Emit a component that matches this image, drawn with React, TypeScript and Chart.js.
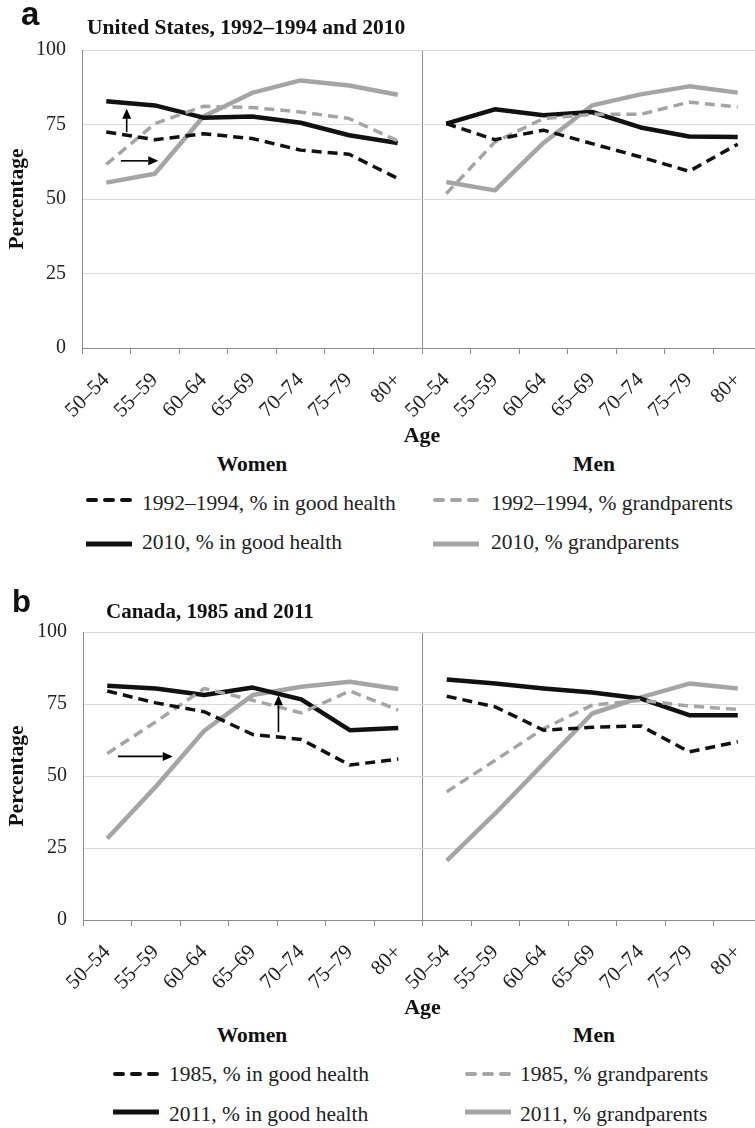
import React, { useEffect, useRef } from 'react';
import { Chart, registerables } from 'chart.js';

Chart.register(...registerables);

// ---------- data ----------
const ageGroups = ['50–54', '55–59', '60–64', '65–69', '70–74', '75–79', '80+'];
const yTickValues = [0, 25, 50, 75, 100];

// United States (women, men)
const usWomenHealth1992 = [72.5, 69.9, 71.9, 70.3, 66.4, 65.0, 56.9];
const usMenHealth1992 = [75.3, 69.9, 73.1, 68.6, 64.1, 59.3, 68.4];
const usWomenGrand1992 = [61.6, 75.3, 81.1, 80.7, 79.2, 77.0, 69.5];
const usMenGrand1992 = [51.8, 69.1, 77.0, 78.4, 78.4, 82.5, 80.9];
const usWomenHealth2010 = [82.8, 81.4, 77.3, 77.7, 75.6, 71.4, 68.8];
const usMenHealth2010 = [75.3, 80.1, 78.1, 79.2, 74.0, 71.0, 70.8];
const usWomenGrand2010 = [55.5, 58.5, 77.7, 85.6, 89.8, 88.1, 85.0];
const usMenGrand2010 = [55.7, 52.9, 68.8, 81.4, 85.1, 87.8, 85.7];

// Canada (women, men)
const caWomenHealth1985 = [79.5, 75.4, 72.3, 64.4, 62.7, 53.8, 55.9];
const caMenHealth1985 = [77.7, 74.0, 65.9, 66.9, 67.4, 58.4, 61.9];
const caWomenGrand1985 = [57.8, 68.8, 80.4, 76.3, 71.9, 79.5, 72.9];
const caMenGrand1985 = [44.5, 55.5, 66.5, 74.6, 76.3, 74.3, 73.1];
const caWomenHealth2011 = [81.3, 80.4, 78.1, 80.7, 76.6, 65.9, 66.7];
const caMenHealth2011 = [83.5, 82.1, 80.4, 79.0, 76.9, 71.1, 71.1];
const caWomenGrand2011 = [28.3, 46.3, 65.7, 78.1, 81.0, 82.7, 80.2];
const caMenGrand2011 = [20.6, 37.0, 54.4, 71.7, 77.3, 82.1, 80.4];

// annotation arrows: [fromCategoryIndex, fromValue, toCategoryIndex, toValue]
const usArrows = [
  [0.42, 72.5, 0.42, 80.3],
  [0.3, 62.8, 1.07, 62.8],
];
const caArrows = [
  [0.22, 56.8, 1.35, 56.8],
  [3.53, 65.3, 3.53, 78.0],
];

const usLegend = ['1992–1994, % in good health', '1992–1994, % grandparents', '2010, % in good health', '2010, % grandparents'];
const caLegend = ['1985, % in good health', '1985, % grandparents', '2011, % in good health', '2011, % grandparents'];

// ---------- styles ----------
const BLACK = '#111111';
const GRAY = '#a5a5a5';
const AXIS = '#8c8c8c';
const GRID = '#dadada';
const SERIF = '"Liberation Serif", "Times New Roman", serif';
const SANS = '"Liberation Sans", Arial, sans-serif';

const arrowPlugin = {
  id: 'arrows',
  afterDatasetsDraw(chart: any, _args: any, opts: any) {
    const list = (opts && opts.list) || [];
    const xs = chart.scales.x;
    const ys = chart.scales.y;
    const ctx = chart.ctx;
    ctx.save();
    ctx.strokeStyle = '#000';
    ctx.fillStyle = '#000';
    ctx.lineWidth = 1.6;
    list.forEach((a: number[]) => {
      const x1 = xs.getPixelForValue(a[0]);
      const y1 = ys.getPixelForValue(a[1]);
      const x2 = xs.getPixelForValue(a[2]);
      const y2 = ys.getPixelForValue(a[3]);
      const ang = Math.atan2(y2 - y1, x2 - x1);
      const hl = 10;
      const hw = 4.5;
      const bx = x2 - hl * Math.cos(ang);
      const by = y2 - hl * Math.sin(ang);
      ctx.beginPath();
      ctx.moveTo(x1, y1);
      ctx.lineTo(bx, by);
      ctx.stroke();
      ctx.beginPath();
      ctx.moveTo(x2, y2);
      ctx.lineTo(bx + hw * Math.sin(ang), by - hw * Math.cos(ang));
      ctx.lineTo(bx - hw * Math.sin(ang), by + hw * Math.cos(ang));
      ctx.closePath();
      ctx.fill();
    });
    ctx.restore();
  },
};

function series(label: string, women: number[], men: number[], color: string, dashed: boolean, width: number) {
  return {
    label,
    data: [...women, ...men],
    borderColor: color,
    borderWidth: width,
    borderDash: dashed ? [10, 6] : [],
    borderCapStyle: 'butt',
    borderJoinStyle: 'round',
    pointRadius: 0,
    pointHoverRadius: 0,
    tension: 0,
    fill: false,
    segment: {
      borderColor: (c: any) => (c.p0DataIndex === ageGroups.length - 1 ? 'rgba(0,0,0,0)' : undefined),
    },
  };
}

type PanelProps = {
  top: number;
  height: number;
  padTop: number;
  axisWidth: number;
  datasets: any[];
  arrows: number[][];
};

function PanelChart({ top, height, padTop, axisWidth, datasets, arrows }: PanelProps) {
  const ref = useRef<HTMLCanvasElement | null>(null);
  useEffect(() => {
    if (!ref.current) return;
    const labels = [...ageGroups, ...ageGroups];
    const chart = new Chart(ref.current, {
      type: 'line',
      data: { labels, datasets },
      plugins: [arrowPlugin],
      options: {
        responsive: false,
        animation: false,
        events: [],
        layout: { padding: { top: padTop, left: 0, right: 0, bottom: 0 } },
        plugins: {
          legend: { display: false },
          tooltip: { enabled: false },
          arrows: { list: arrows },
        } as any,
        scales: {
          x: {
            type: 'category',
            offset: true,
            grid: {
              offset: true,
              drawOnChartArea: true,
              color: (c: any) => (c.index === ageGroups.length ? AXIS : 'rgba(0,0,0,0)'),
              tickColor: AXIS,
              tickLength: 6,
              lineWidth: 1,
            },
            border: { color: AXIS, width: 1 },
            ticks: {
              minRotation: 45,
              maxRotation: 45,
              autoSkip: false,
              padding: 14,
              color: '#222',
              font: { family: SERIF, size: 21 },
            },
            title: {
              display: true,
              text: 'Age',
              color: '#111',
              padding: 0,
              font: { family: SERIF, size: 22, weight: 'bold' },
            },
            afterFit: (s: any) => {
              s.height = 102;
              s.paddingLeft = 0;
              s.paddingRight = 0;
            },
          },
          y: {
            min: 0,
            max: 100,
            afterBuildTicks: (s: any) => {
              s.ticks = yTickValues.map((v) => ({ value: v }));
            },
            grid: { color: GRID, drawTicks: false, lineWidth: 1 },
            border: { color: AXIS, width: 1 },
            ticks: {
              padding: 16,
              color: '#222',
              font: { family: SERIF, size: 20 },
            },
            title: {
              display: true,
              text: 'Percentage',
              color: '#111',
              padding: { top: 5, bottom: 0 },
              font: { family: SERIF, size: 21.5, weight: 'bold' },
            },
            afterFit: (s: any) => {
              s.width = axisWidth;
              s.paddingTop = 0;
              s.paddingBottom = 0;
            },
          },
        },
      } as any,
    });
    return () => chart.destroy();
  }, []);
  return (
    <canvas
      ref={ref}
      width={762}
      height={height}
      style={{ position: 'absolute', left: 0, top, width: 762, height }}
    />
  );
}

function Sample({ dashed, color, left, cy }: { dashed: boolean; color: string; left: number; cy: number }) {
  return (
    <svg
      width={48}
      height={10}
      style={{ position: 'absolute', left, top: cy - 5, overflow: 'visible' }}
    >
      {dashed ? (
        <line x1={2} y1={5} x2={44} y2={5} stroke={color} strokeWidth={4} strokeDasharray="8 9" strokeLinecap="round" />
      ) : (
        <line x1={0} y1={5} x2={46} y2={5} stroke={color} strokeWidth={5} />
      )}
    </svg>
  );
}

// place text by its baseline: for line-height 1, baseline ≈ top + 0.8375em (Liberation Serif)
const textStyle = (left: number, baseline: number, size: number, bold: boolean, family = SERIF, ratio = 0.8375): React.CSSProperties => ({
  position: 'absolute',
  left,
  top: baseline - size * ratio,
  fontFamily: family,
  fontSize: size,
  fontWeight: bold ? 'bold' : 'normal',
  lineHeight: 1,
  whiteSpace: 'nowrap',
  color: '#111',
  margin: 0,
});

type LegendProps = {
  labels: string[];
  dash1: number;
  base1: number;
  dash2: number;
  base2: number;
  sample1: number;
  text1: number;
  sample2: number;
  text2: number;
};

const LEGEND_SIZE = 21.5;

function Legend({ labels, dash1, base1, dash2, base2, sample1, text1, sample2, text2 }: LegendProps) {
  return (
    <>
      <Sample dashed color={BLACK} left={sample1} cy={dash1} />
      <div style={{ ...textStyle(text1, base1, LEGEND_SIZE, false), color: '#222' }}>{labels[0]}</div>
      <Sample dashed color={GRAY} left={sample2} cy={dash1} />
      <div style={{ ...textStyle(text2, base1, LEGEND_SIZE, false), color: '#222' }}>{labels[1]}</div>
      <Sample dashed={false} color={BLACK} left={sample1} cy={dash2} />
      <div style={{ ...textStyle(text1, base2, LEGEND_SIZE, false), color: '#222' }}>{labels[2]}</div>
      <Sample dashed={false} color={GRAY} left={sample2} cy={dash2} />
      <div style={{ ...textStyle(text2, base2, LEGEND_SIZE, false), color: '#222' }}>{labels[3]}</div>
    </>
  );
}

export default function App() {
  const usDatasets = [
    series('1992–1994, % in good health', usWomenHealth1992, usMenHealth1992, BLACK, true, 3.5),
    series('1992–1994, % grandparents', usWomenGrand1992, usMenGrand1992, GRAY, true, 3.5),
    series('2010, % in good health', usWomenHealth2010, usMenHealth2010, BLACK, false, 4.5),
    series('2010, % grandparents', usWomenGrand2010, usMenGrand2010, GRAY, false, 4.5),
  ];
  const caDatasets = [
    series('1985, % in good health', caWomenHealth1985, caMenHealth1985, BLACK, true, 3.5),
    series('1985, % grandparents', caWomenGrand1985, caMenGrand1985, GRAY, true, 3.5),
    series('2011, % in good health', caWomenHealth2011, caMenHealth2011, BLACK, false, 4.5),
    series('2011, % grandparents', caWomenGrand2011, caMenGrand2011, GRAY, false, 4.5),
  ];

  return (
    <div
      style={{
        position: 'absolute',
        left: 0,
        top: 0,
        width: 755,
        height: 1128,
        overflow: 'hidden',
        background: '#fff',
      }}
    >
      {/* Panel a */}
      <PanelChart top={0} height={450} padTop={50} axisWidth={82} datasets={usDatasets} arrows={usArrows} />
      <div style={textStyle(21, 25, 33, true, SANS, 0.8465)}>a</div>
      <div style={textStyle(87, 35, 21.5, true)}>United States, 1992–1994 and 2010</div>
      <div style={{ ...textStyle(152, 472, 21.5, true), width: 200, textAlign: 'center' }}>Women</div>
      <div style={{ ...textStyle(494, 472, 21.5, true), width: 200, textAlign: 'center' }}>Men</div>
      <Legend labels={usLegend} dash1={500} base1={511} dash2={543.5} base2={550} sample1={86} text1={142} sample2={433} text2={491} />

      {/* Panel b */}
      <PanelChart top={580} height={442} padTop={52} axisWidth={83} datasets={caDatasets} arrows={caArrows} />
      <div style={textStyle(12, 612, 31, true, SANS, 0.8465)}>b</div>
      <div style={textStyle(106, 619, 21, true)}>Canada, 1985 and 2011</div>
      <div style={{ ...textStyle(152, 1043, 21.5, true), width: 200, textAlign: 'center' }}>Women</div>
      <div style={{ ...textStyle(494, 1043, 21.5, true), width: 200, textAlign: 'center' }}>Men</div>
      <Legend labels={caLegend} dash1={1074} base1={1082} dash2={1112} base2={1122} sample1={113} text1={169} sample2={465} text2={520} />
    </div>
  );
}
